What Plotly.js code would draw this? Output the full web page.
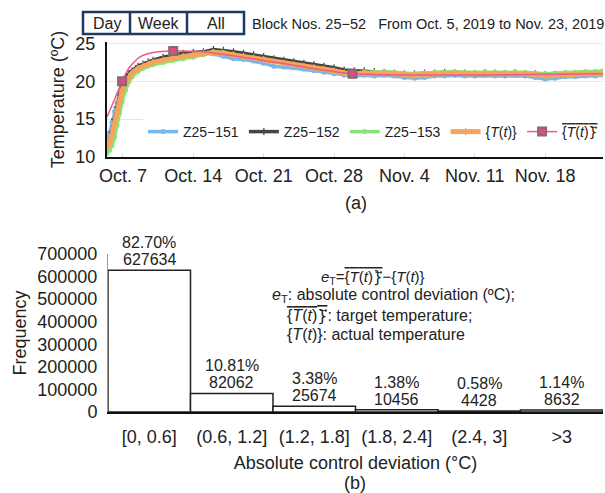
<!DOCTYPE html>
<html>
<head>
<meta charset="utf-8">
<script src="https://cdn.plot.ly/plotly-3.0.1.min.js"></script>
<style>html,body{margin:0;padding:0;background:#fff;}#chart{width:605px;height:493px;}</style>
</head>
<body>
<div id="chart"></div>
<script>
// ---------- data: panel (a) ----------
const times = ['2019-10-05 10:00','2019-10-05 16:00','2019-10-05 22:00','2019-10-06 04:00','2019-10-06 10:00','2019-10-06 16:00','2019-10-06 22:00','2019-10-07 06:00','2019-10-07 14:00','2019-10-07 22:00','2019-10-08 12:00','2019-10-09 00:00','2019-10-09 12:00',
'2019-10-10','2019-10-11','2019-10-12','2019-10-13','2019-10-14','2019-10-15','2019-10-16','2019-10-17','2019-10-18','2019-10-19','2019-10-20','2019-10-21','2019-10-22','2019-10-23','2019-10-24','2019-10-25','2019-10-26','2019-10-27','2019-10-28','2019-10-29','2019-10-30','2019-10-31',
'2019-11-01','2019-11-02','2019-11-03','2019-11-04','2019-11-05','2019-11-06','2019-11-07','2019-11-08','2019-11-09','2019-11-10','2019-11-11','2019-11-12','2019-11-13','2019-11-14','2019-11-15','2019-11-16','2019-11-17','2019-11-18','2019-11-19','2019-11-20','2019-11-21','2019-11-22','2019-11-23','2019-11-23 18:00'];

const z151 = [11.9,13.2,14.6,16.0,17.2,18.5,19.6,20.4,20.9,21.3,21.8,22.1,22.4,
22.6,22.9,23.2,23.4,23.6,23.8,23.6,23.3,23.0,22.9,22.7,22.4,22.0,21.9,21.8,21.6,21.4,21.2,21.0,20.8,20.7,20.8,
20.7,20.8,20.7,20.5,20.4,20.5,20.7,20.7,20.8,20.7,20.7,20.8,20.7,20.7,20.8,20.7,20.5,20.3,20.4,20.6,20.6,20.7,20.7,20.8];

const z152 = [10.9,11.8,13.3,15.0,16.6,18.2,19.6,20.5,21.0,21.4,22.0,22.3,22.6,
22.8,23.2,23.5,23.7,23.8,23.9,24.2,24.1,23.9,23.7,23.5,23.3,23.0,22.8,22.6,22.4,22.2,22.0,21.8,21.5,21.4,21.4,
21.3,21.2,21.1,21.0,21.0,21.1,21.1,21.2,21.1,21.1,21.0,21.1,21.1,21.0,21.1,21.0,21.0,20.9,20.9,21.0,21.0,21.1,21.1,21.1];

const z153 = [10.5,10.9,11.5,12.6,14.2,15.8,17.3,18.8,19.9,20.6,21.3,21.7,22.0,
22.2,22.5,22.8,23.0,23.2,23.5,23.9,23.8,23.5,23.3,23.1,22.9,22.6,22.4,22.2,22.0,21.8,21.6,21.3,21.1,21.1,21.2,
21.2,21.3,21.2,21.1,21.0,21.1,21.2,21.2,21.3,21.2,21.2,21.3,21.2,21.2,21.3,21.2,21.1,21.0,21.1,21.2,21.2,21.3,21.3,21.4];

const tActual = [11.0,11.8,12.9,14.4,16.0,17.4,18.8,19.8,20.6,21.1,21.7,22.0,22.3,
22.5,22.8,23.1,23.3,23.5,23.7,23.8,23.7,23.5,23.3,23.1,22.9,22.6,22.4,22.2,22.0,21.8,21.6,21.4,21.1,21.0,21.1,
21.0,21.1,21.0,20.9,20.8,20.9,21.0,21.0,21.1,21.0,21.0,21.1,21.0,21.0,21.1,21.0,20.9,20.7,20.8,20.9,20.9,21.0,21.0,21.0];

const targetTimes = ['2019-10-05 10:00','2019-10-06 04:00','2019-10-06 22:00','2019-10-07 16:00','2019-10-08 16:00','2019-10-10 00:00','2019-10-12 00:00','2019-10-15 00:00','2019-10-22 12:00','2019-10-29 20:00','2019-11-23 18:00'];
const targetVals  = [15.3,17.6,20.0,21.9,23.2,23.8,24.0,23.9,22.45,21.0,21.0];
const markerTimes = ['2019-10-06 22:00','2019-10-12 00:00','2019-10-29 20:00'];
const markerVals  = [20,24,21];

const weekTicks = ['2019-10-07','2019-10-14','2019-10-21','2019-10-28','2019-11-04','2019-11-11','2019-11-18'];
const weekLabels = ['Oct. 7','Oct. 14','Oct. 21','Oct. 28','Nov. 4','Nov. 11','Nov. 18'];

// ---------- data: panel (b) ----------
const categories = ['[0, 0.6]','(0.6, 1.2]','(1.2, 1.8]','(1.8, 2.4]','(2.4, 3]','>3'];
const freq = [627634, 82062, 25674, 10456, 4428, 8632];
const pct = ['82.70%','10.81%','3.38%','1.38%','0.58%','1.14%'];

// ---------- layout helpers (pixel -> paper) ----------
const W = 605, H = 493, L = 107, R = 2;
const px = x => (x - L) / (W - L - R);
const py = y => 1 - y / H;
const FONT = 'Arial, "Liberation Sans", sans-serif';
const NAVY = '#1f3864';

const OVT = '<span style="text-decoration:overline">{<i>T</i>(<i>t</i>)<span style="font-family:\'DejaVu Sans\'">}\u20D7</span></span>';
const TT = '{<i>T</i>(<i>t</i>)}';

// marker-only points separated by gaps so no line is drawn between them
const mx = [], my = [];
markerTimes.forEach((t, i) => { if (i) { mx.push(t); my.push(null); } mx.push(t); my.push(markerVals[i]); });

const traces = [
  {x: times, y: z151, name: 'Z25−151', mode: 'lines+markers', line: {color: '#79b6ea', width: 3.5}, marker: {size: 5, color: '#79b6ea'}, xaxis: 'x', yaxis: 'y'},
  {x: times, y: z152, name: 'Z25−152', mode: 'lines+markers', line: {color: '#444444', width: 3.5}, marker: {size: 5, symbol: 'cross-thin', line: {color: '#444444', width: 1.2}, color: '#444444'}, xaxis: 'x', yaxis: 'y'},
  {x: times, y: z153, name: 'Z25−153', mode: 'lines+markers', line: {color: '#86e57a', width: 3.5}, marker: {size: 5, color: '#86e57a'}, xaxis: 'x', yaxis: 'y'},
  {x: times, y: tActual, name: TT, mode: 'lines+markers', line: {color: '#f5a55a', width: 5}, marker: {size: 5, symbol: 'cross-thin', line: {color: '#f5a55a', width: 1.2}, color: '#f5a55a'}, xaxis: 'x', yaxis: 'y'},
  {x: targetTimes, y: targetVals, name: 'target', mode: 'lines', line: {color: '#ee5a84', width: 1.5, shape: 'spline', smoothing: 0.6}, legendgroup: 'tg', showlegend: false, xaxis: 'x', yaxis: 'y'},
  {x: mx, y: my, name: OVT, mode: 'lines+markers', connectgaps: false, line: {color: '#ee5a84', width: 1.5}, marker: {symbol: 'square', size: 8, color: '#e04d7c', line: {color: '#7d6e74', width: 2}}, legendgroup: 'tg', xaxis: 'x', yaxis: 'y'},
  {x: categories, y: freq, type: 'bar', marker: {color: '#ffffff', line: {color: '#222222', width: 1.5}}, showlegend: false, xaxis: 'x2', yaxis: 'y2'}
];

const annotations = [];
// bar labels
categories.forEach((c, i) => {
  annotations.push({xref: 'x2', yref: 'y2', x: c, y: freq[i], text: String(freq[i]), showarrow: false, xanchor: 'center', yanchor: 'bottom', yshift: 0, font: {size: 16, color: '#222'}});
  annotations.push({xref: 'x2', yref: 'y2', x: c, y: freq[i], text: pct[i], showarrow: false, xanchor: 'center', yanchor: 'bottom', yshift: 17, font: {size: 16, color: '#222'}});
});
function note(x, y, text, size, xanchor) {
  return {xref: 'paper', yref: 'paper', x: px(x), y: py(y), xanchor: xanchor || 'center', yanchor: 'middle', showarrow: false, text: text, font: {size: size, color: '#222'}};
}
annotations.push(
  note(250, 24, 'Block Nos. 25−52   From Oct. 5, 2019 to Nov. 23, 2019', 14.5, 'left'),
  note(106.5, 23.5, 'Day', 16),
  note(158.5, 23.5, 'Week', 16),
  note(215.5, 23.5, 'All', 16),
  note(356, 203, '(a)', 18),
  note(355, 483, '(b)', 18),
  note(373, 277, '<i>e</i><sub>T</sub>=' + OVT + '−' + TT, 15),
  note(270, 295, '<i>e</i><sub>T</sub>: absolute control deviation (ºC);', 16, 'left'),
  note(285, 315, OVT + ': target temperature;', 16, 'left'),
  note(285, 334, TT + ': actual temperature', 16, 'left')
);

const shapes = [
  {type: 'rect', xref: 'paper', yref: 'paper', x0: px(83), x1: px(244), y0: py(34), y1: py(12), line: {color: NAVY, width: 2.5}, fillcolor: 'rgba(0,0,0,0)'},
  {type: 'line', xref: 'paper', yref: 'paper', x0: px(130), x1: px(130), y0: py(34), y1: py(12), line: {color: NAVY, width: 2.5}},
  {type: 'line', xref: 'paper', yref: 'paper', x0: px(187), x1: px(187), y0: py(34), y1: py(12), line: {color: NAVY, width: 2.5}}
];

const layout = {
  width: W, height: H,
  margin: {l: L, r: R, t: 0, b: 0},
  paper_bgcolor: '#fff', plot_bgcolor: '#fff',
  font: {family: FONT, color: '#222', size: 18},
  showlegend: true,
  legend: {orientation: 'h', x: 1, y: py(132), xanchor: 'right', yanchor: 'middle', bgcolor: '#fff', font: {size: 14, color: '#222'}, itemwidth: 30, traceorder: 'normal'},
  xaxis: {
    type: 'date', domain: [0, 1], anchor: 'y',
    range: ['2019-10-05 10:00', '2019-11-23 18:00'],
    tickvals: weekTicks, ticktext: weekLabels,
    showgrid: false, showline: true, linecolor: '#111', linewidth: 2,
    ticks: 'inside', ticklen: 4, tickcolor: '#dddddd', ticklabelstandoff: 1,
    tickfont: {size: 18}, zeroline: false
  },
  yaxis: {
    domain: [py(157), py(42)], anchor: 'x',
    range: [10, 25.2], tickvals: [10, 15, 20, 25],
    showgrid: true, gridcolor: '#e6e6e6', gridwidth: 1,
    showline: true, linecolor: '#111', linewidth: 2, zeroline: false,
    ticklabelstandoff: 6, tickfont: {size: 18},
    title: {text: 'Temperature (ºC)', font: {size: 18}, standoff: 6}
  },
  xaxis2: {
    type: 'category', domain: [px(108), 1], anchor: 'y2',
    showgrid: false, showline: true, linecolor: '#111', linewidth: 1.5,
    ticks: '', ticklabelstandoff: 8, tickfont: {size: 18},
    title: {text: 'Absolute control deviation (°C)', font: {size: 18}, standoff: 10}
  },
  yaxis2: {
    domain: [py(412), py(254)], anchor: 'x2',
    range: [0, 700000], dtick: 100000, tickformat: 'd',
    showgrid: false, showline: true, linecolor: '#999', linewidth: 1, zeroline: false,
    ticklabelstandoff: 6, tickfont: {size: 18},
    title: {text: 'Frequency', font: {size: 18}, standoff: 6}
  },
  bargap: 0,
  annotations: annotations,
  shapes: shapes
};

Plotly.newPlot('chart', traces, layout, {displayModeBar: false, staticPlot: true});
</script>
</body>
</html>
